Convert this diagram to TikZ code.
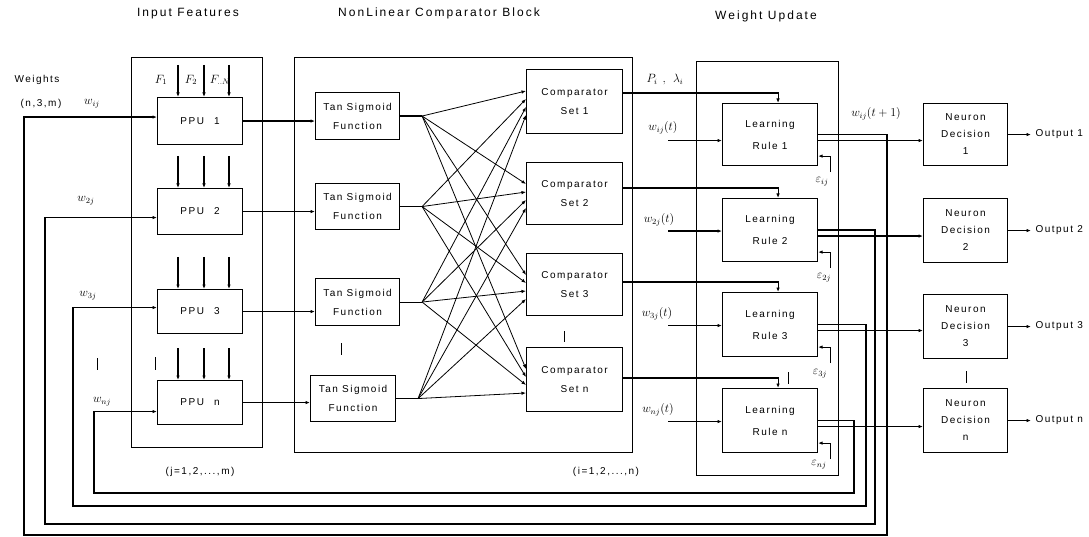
\documentclass[tikz,border=0pt]{standalone}
\usepackage{fontspec}
\setmainfont{Liberation Sans}[LetterSpace=15]
\usetikzlibrary{arrows.meta,calc}
\begin{document}
\begin{tikzpicture}[x=1pt,y=-1pt,line width=1.1pt,
  box/.style={draw,line width=1.1pt,inner sep=1pt,align=center,anchor=north west,font=\fontsize{10}{19}\selectfont},
  frame/.style={draw,line width=1.1pt,anchor=north west,inner sep=0pt},
  arr/.style={-{Latex[length=4.5pt,width=3.5pt]}},
  fan/.style={-{Latex[length=4.5pt,width=3.5pt]},line width=0.8pt},
  lbl/.style={inner sep=0pt,font=\fontsize{10}{12}\selectfont},
  mlbl/.style={inner sep=0pt,font=\fontsize{12}{14}\selectfont},
  ttl/.style={inner sep=0pt,font=\fontsize{12}{14}\selectfont\addfontfeatures{LetterSpace=17}},
  bar/.style={line width=1pt}]
\useasboundingbox (0,0) rectangle (1089,537);

% titles
\node[ttl] (t-if) at (188,14) {Input Features};
\node[ttl] (t-nc) at (439,13) {NonLinear Comparator Block};
\node[ttl] (t-wu) at (766,16) {Weight Update};

% frames
\node[frame,minimum width=131pt,minimum height=390pt] (ifbox) at (131,57) {};
\node[frame,minimum width=338pt,minimum height=395pt] (ncbox) at (294,57) {};
\node[frame,minimum width=142pt,minimum height=414pt] (wubox) at (696,61) {};

% PPU blocks
\node[box,minimum width=85pt,minimum height=47pt] (ppu1) at (157,97) {PPU\quad 1};
\node[box,minimum width=85pt,minimum height=46pt] (ppu2) at (157,188) {PPU\quad 2};
\node[box,minimum width=85pt,minimum height=44pt] (ppu3) at (157,289) {PPU\quad 3};
\node[box,minimum width=85pt,minimum height=44pt] (ppun) at (157,380) {PPU\quad n};

\foreach \p in {ppu1,ppu2,ppu3,ppun}
  \foreach \dx in {21,47,72}
    \draw[arr] ($(\p.north west)+(\dx,-32)$) -- ($(\p.north west)+(\dx,0)$);

\node[mlbl] (f1) at (161,80) {$F_1$};
\node[mlbl] (f2) at (191,80) {$F_2$};
\node[mlbl] (fn) at (220,80) {$F_{..N}$};

% left labels
\node[lbl] (wts) at (37,80) {Weights};
\node[lbl] (nm) at (41,104) {(n,3,m)};
\node[mlbl] (w1) at (92,104) {$w_{ij}$};
\node[mlbl] (w2) at (86,201) {$w_{2j}$};
\node[mlbl] (w3) at (88,296) {$w_{3j}$};
\node[mlbl] (wn) at (102,402) {$w_{nj}$};

% tan sigmoid blocks
\node[box,minimum width=84pt,minimum height=47pt] (tan1) at (315,92) {Tan Sigmoid\\Function};
\node[box,minimum width=84pt,minimum height=46pt] (tan2) at (315,183) {Tan Sigmoid\\Function};
\node[box,minimum width=84pt,minimum height=47pt] (tan3) at (315,278) {Tan Sigmoid\\Function};
\node[box,minimum width=85pt,minimum height=46pt] (tann) at (310,375) {Tan Sigmoid\\Function};

\foreach \i in {1,2,3,n}
  \draw[arr] (ppu\i.east) -- (ppu\i.east -| tan\i.west);

\foreach \i in {1,2,3,n} {
  \coordinate (h\i) at ($(tan\i.east)+(22,0)$);
  \draw (tan\i.east) -- (h\i);
}

% comparator blocks
\node[box,minimum width=96pt,minimum height=64pt] (cmp1) at (526,69) {Comparator\\Set 1};
\node[box,minimum width=96pt,minimum height=62pt] (cmp2) at (526,162) {Comparator\\Set 2};
\node[box,minimum width=96pt,minimum height=62pt] (cmp3) at (526,253) {Comparator\\Set 3};
\node[box,minimum width=96pt,minimum height=64pt] (cmpn) at (526,347) {Comparator\\Set n};

\foreach \j [count=\jj] in {1,2,3,n}
  \foreach \k in {1,2,3,n}
    \draw[fan] (h\j) -- ($(cmp\k.north west)+(0,{22+8*(\jj-1)})$);

% learning rule blocks
\node[box,minimum width=95pt,minimum height=62pt,font=\fontsize{10}{22}\selectfont] (lr1) at (722,103) {Learning\\Rule 1};
\node[box,minimum width=95pt,minimum height=63pt,font=\fontsize{10}{22}\selectfont] (lr2) at (722,198) {Learning\\Rule 2};
\node[box,minimum width=95pt,minimum height=64pt,font=\fontsize{10}{22}\selectfont] (lr3) at (722,292) {Learning\\Rule 3};
\node[box,minimum width=95pt,minimum height=64pt,font=\fontsize{10}{22}\selectfont] (lrn) at (722,388) {Learning\\Rule n};

\node[mlbl] (pl) at (665,80) {$P_i\ ,\ \lambda_i$};

\foreach \i in {1,2,3,n} {
  \coordinate (tp\i) at ($(lr\i.north)+(8,-10)$);
  \draw[arr] (cmp\i.east |- tp\i) -- (tp\i) -- ($(lr\i.north)+(8,0)$);
}

% w(t) inputs
\coordinate (wi1) at ($(lr1.west)+(-54,6)$);
\coordinate (wi2) at ($(lr2.west)+(-54,1)$);
\coordinate (wi3) at ($(lr3.west)+(-54,1)$);
\coordinate (win) at ($(lrn.west)+(-54,1)$);
\foreach \i in {1,2,3,n}
  \draw[arr] (wi\i) -- (wi\i -| lr\i.west);
\node[mlbl] (wt1) at (663,128) {$w_{ij}(t)$};
\node[mlbl] (wt2) at (659,220) {$w_{2j}(t)$};
\node[mlbl] (wt3) at (657,314) {$w_{3j}(t)$};
\node[mlbl] (wtn) at (658,410) {$w_{nj}(t)$};

% epsilon inputs
\foreach \i in {1,2,3,n} {
  \coordinate (e\i) at ($(lr\i.south east)+(12,6)$);
  \draw[arr] (e\i) |- ($(lr\i.south east)+(0,-10)$);
}
\node[mlbl] (ep1) at (822,182) {$\varepsilon_{ij}$};
\node[mlbl] (ep2) at (824,278) {$\varepsilon_{2j}$};
\node[mlbl] (ep3) at (820,374) {$\varepsilon_{3j}$};
\node[mlbl] (epn) at (819,465) {$\varepsilon_{nj}$};

\node[mlbl] (wt1p) at (876,114) {$w_{ij}(t+1)$};

% neuron decision blocks
\node[box,minimum width=84pt,minimum height=62pt,font=\fontsize{10}{17}\selectfont] (nd1) at (923,103) {Neuron\\Decision\\1};
\node[box,minimum width=84pt,minimum height=64pt,font=\fontsize{10}{17}\selectfont] (nd2) at (923,198) {Neuron\\Decision\\2};
\node[box,minimum width=84pt,minimum height=64pt,font=\fontsize{10}{17}\selectfont] (nd3) at (923,294) {Neuron\\Decision\\3};
\node[box,minimum width=84pt,minimum height=64pt,font=\fontsize{10}{17}\selectfont] (ndn) at (923,388) {Neuron\\Decision\\n};

\foreach \i in {1,2,3,n} {
  \coordinate (o\i) at ($(lr\i.east)+(0,6)$);
  \draw[arr] (o\i) -- (o\i -| nd\i.west);
}

% outputs
\node[lbl,anchor=west,inner sep=4pt] (out1) at (1031,134) {Output 1};
\node[lbl,anchor=west,inner sep=4pt] (out2) at (1031,230) {Output 2};
\node[lbl,anchor=west,inner sep=4pt] (out3) at (1031,326) {Output 3};
\node[lbl,anchor=west,inner sep=4pt] (outn) at (1031,420) {Output n};
\foreach \i in {1,2,3,n}
  \draw[arr] (nd\i.east) -- (nd\i.east -| out\i.west);

% feedback loops
\coordinate (fb1) at (887,535); \coordinate (fa1) at (24,535);
\coordinate (fb2) at (875,524); \coordinate (fa2) at (45,524);
\coordinate (fb3) at (866,506); \coordinate (fa3) at (73,506);
\coordinate (fbn) at (854,493); \coordinate (fan) at (94,493);
\draw[arr] (lr1.east) -| (fb1) -- (fa1) |- ($(ppu1.west)+(0,-4)$);
\draw[arr] (lr2.east) -| (fb2) -- (fa2) |- ($(ppu2.west)+(0,6)$);
\draw[arr] (lr3.east) -| (fb3) -- (fa3) |- ($(ppu3.west)+(0,-4)$);
\draw[arr] (lrn.east) -| (fbn) -- (fan) |- ($(ppun.west)+(0,9)$);

% index ranges
\node[lbl] (jr) at (200,472) {(j=1,2,...,m)};
\node[lbl] (ir) at (606,472) {(i=1,2,...,n)};

% vertical ellipsis marks
\draw[bar] (97,358) -- (97,370);
\draw[bar] (155,357) -- (155,370);
\draw[bar] (341,343) -- (341,355);
\draw[bar] (564,331) -- (564,342);
\draw[bar] (788,372) -- (788,384);
\draw[bar] (966,371) -- (966,383);
\end{tikzpicture}
\end{document}
